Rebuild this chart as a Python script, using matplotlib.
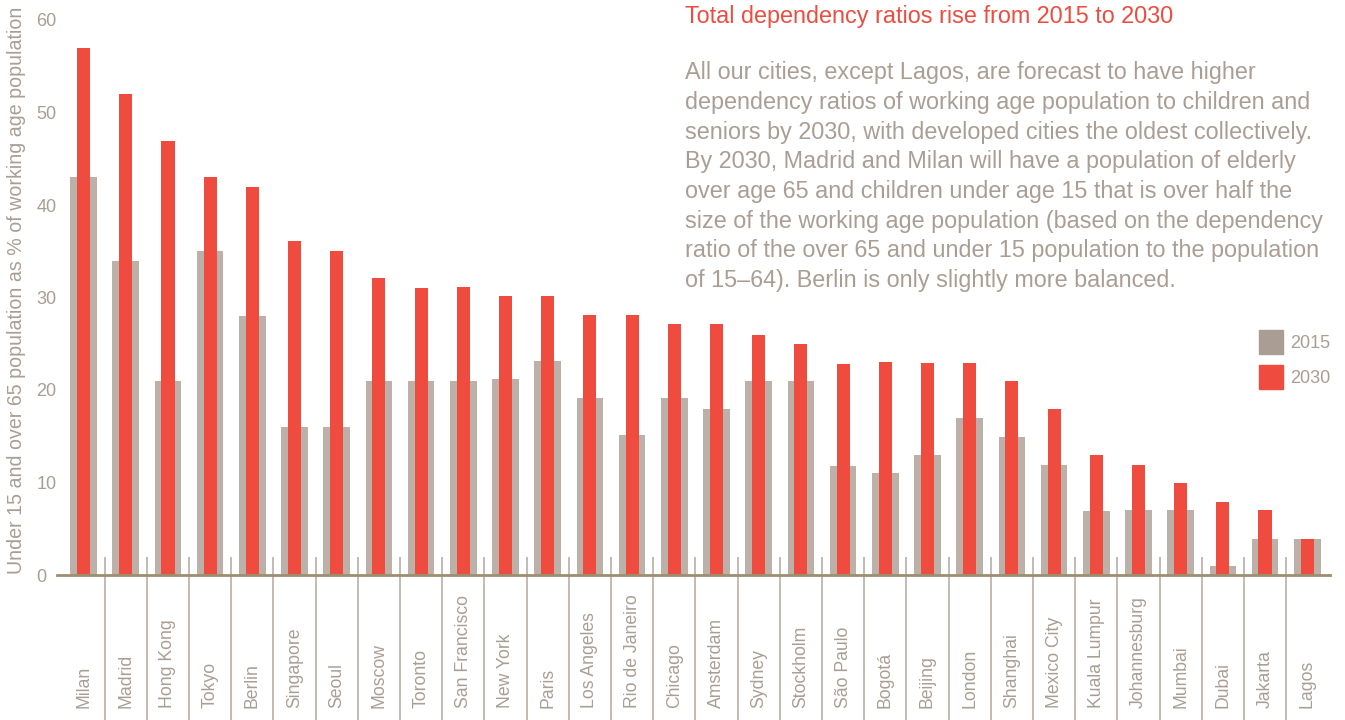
import matplotlib
matplotlib.use('Agg')
import matplotlib.pyplot as plt
from matplotlib.patches import Patch
import numpy as np

plt.rcParams['font.family'] = ['Liberation Sans', 'DejaVu Sans']

cities = ['Milan', 'Madrid', 'Hong Kong', 'Tokyo', 'Berlin', 'Singapore', 'Seoul',
          'Moscow', 'Toronto', 'San Francisco', 'New York', 'Paris', 'Los Angeles',
          'Rio de Janeiro', 'Chicago', 'Amsterdam', 'Sydney', 'Stockholm', 'São Paulo',
          'Bogotá', 'Beijing', 'London', 'Shanghai', 'Mexico City', 'Kuala Lumpur',
          'Johannesburg', 'Mumbai', 'Dubai', 'Jakarta', 'Lagos']
ratio_2015 = [43, 34, 21, 35, 28, 16, 16, 21, 21, 21, 21.2, 23.1, 19.1, 15.1, 19.1,
              18, 21, 21, 11.8, 11, 13, 17, 14.9, 11.9, 6.9, 7, 7, 1, 3.9, 3.9]
ratio_2030 = [57, 52, 46.9, 43, 42, 36.1, 35, 32.1, 31, 31.1, 30.2, 30.2, 28.1, 28.1,
              27.1, 27.1, 26, 25, 22.8, 23, 22.9, 22.9, 21, 18, 13, 11.9, 10, 7.9, 7, 3.9]
y_ticks = [0, 10, 20, 30, 40, 50, 60]

title = 'Total dependency ratios rise from 2015 to 2030'
body = ('All our cities, except Lagos, are forecast to have higher\n'
        'dependency ratios of working age population to children and\n'
        'seniors by 2030, with developed cities the oldest collectively.\n'
        'By 2030, Madrid and Milan will have a population of elderly\n'
        'over age 65 and children under age 15 that is over half the\n'
        'size of the working age population (based on the dependency\n'
        'ratio of the over 65 and under 15 population to the population\n'
        'of 15\u201364). Berlin is only slightly more balanced.')

# colours
grey_bar = '#bbb1a9'
grey_key = '#a99d94'
red = '#f04b3f'
text_col = '#aa9e94'
axis_col = '#9c8f6f'
sep_col = '#b3a89e'

W, H = 1345, 720
fig = plt.figure(figsize=(W / 100, H / 100), dpi=100)
ax = fig.add_axes([57 / W, 1 - 575 / H, (1330 - 57) / W, (575 - 20) / H])

x = np.arange(len(cities))
ax.bar(x, ratio_2015, width=0.63, color=grey_bar, zorder=2)
ax.bar(x, ratio_2030, width=0.31, color=red, zorder=3)

# thin separators between cities, running down through the label area
ax.vlines(x[:-1] + 0.5, 2, -15.8, color=sep_col, lw=1.1, clip_on=False, zorder=1)

ax.set_xlim(-0.63, 29.54)
ax.set_ylim(0, 60)

for side in ['top', 'right', 'left']:
    ax.spines[side].set_visible(False)
ax.spines['bottom'].set_color(axis_col)
ax.spines['bottom'].set_linewidth(2)
ax.spines['bottom'].set_zorder(4)

ax.set_yticks(y_ticks)
ax.set_yticklabels([str(v) for v in y_ticks], ha='left')
ax.tick_params(axis='y', length=0, pad=15, labelsize=13, labelcolor=text_col)

ax.set_xticks(x)
ax.set_xticklabels(cities, rotation=90, va='bottom')
ax.tick_params(axis='x', length=0, pad=96, labelsize=12.7, labelcolor=text_col)

ax.set_ylabel('Under 15 and over 65 population as % of working age population',
              fontsize=14.1, color=text_col)
ax.yaxis.set_label_coords(-0.0244, 0.5135)

fig.text(685 / W, 1 - 23 / H, title, color=red, fontsize=16.8, va='baseline', ha='left')
# multi-line baseline alignment anchors the last line
fig.text(685 / W, 1 - 287 / H, body, color=text_col, fontsize=16.8, va='baseline',
         ha='left', linespacing=1.372)

handles = [Patch(color=grey_key), Patch(color=red)]
fig.legend(handles, ['2015', '2030'], loc='upper left',
           bbox_to_anchor=(1259 / W, 1 - 330 / H), frameon=False, borderpad=0,
           borderaxespad=0, handlelength=1.33, handleheight=1.67, handletextpad=0.4,
           labelspacing=0.6, prop={'size': 13}, labelcolor=text_col)

fig.savefig('out.png', dpi=100)
